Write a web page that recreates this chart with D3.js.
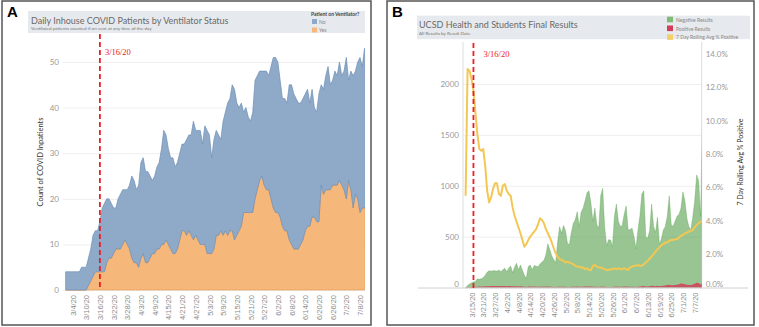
<!DOCTYPE html>
<html>
<head>
<meta charset="utf-8">
<script src="https://cdn.jsdelivr.net/npm/d3@7"></script>
<style>
  body { margin: 0; background: #fff; }
  svg { display: block; font-family: Lato, "Open Sans", sans-serif; }
</style>
</head>
<body>
<svg id="chart" width="759" height="327"></svg>
<script>
const parseDate = d3.timeParse("%m/%d/%y");
const fmtDate = d3.timeFormat("%-m/%-d/%y");

// ---- panel A: daily inhouse patients, starting 3/1/20 ----
const ventStart = "3/1/20";
const ventNo = [
  4,4,4,4,4,4,4,5,5,5,
  6,7,9,9,9,11,14,15,14,13,
  12,10,9,11,12,12,11,12,14,18,
  18,16,18,21,21,20,20,18,16,17,
  18,19,21,25,23,21,20,21,19,19,
  19,19,19,21,21,22,26,23,24,25,
  22,26,27,26,21,24,23,22,20,25,
  26,29,29,32,33,29,27,27,22,23,
  21,20,22,26,25,24,23,25,26,25,
  29,33,34,33,30,28,29,28,34,35,
  34,33,32,31,31,30,30,27,28,24,
  24,28,22,23,25,27,23,23,25,24,
  26,24,26,31,22,26,29,27,30,34,
  31,35
];
const ventYes = [
  0,0,0,0,0,0,0,0,0,0,
  1,2,3,4,4,4,4,4,6,7,
  7,8,9,9,9,10,11,10,9,7,
  6,6,5,7,8,6,6,7,8,8,
  9,9,10,10,11,10,9,8,8,9,
  11,13,13,12,13,12,11,12,11,10,
  10,10,8,8,8,9,12,12,13,12,
  13,12,13,13,11,12,13,14,17,17,
  17,17,17,20,22,24,25,23,22,22,
  20,18,17,17,16,14,13,13,11,10,
  9,9,9,10,11,13,14,14,16,16,
  15,15,23,21,22,22,22,23,23,23,
  24,23,22,20,24,22,18,21,20,17,
  18,18
];
const ventTicks = ["3/4/20","3/10/20","3/16/20","3/22/20","3/28/20","4/3/20","4/9/20","4/15/20",
  "4/21/20","4/27/20","5/3/20","5/9/20","5/15/20","5/21/20","5/27/20","6/2/20","6/8/20",
  "6/14/20","6/20/20","6/26/20","7/2/20","7/8/20"];
const ventYTicks = [0, 10, 20, 30, 40, 50];

// ---- panel B: test results by result date, starting 3/12/20 ----
const testStart = "3/12/20";
const negResults = [
  0,20,35,45,55,60,85,80,85,95,
  120,150,165,160,165,165,160,172,155,175,
  189,155,190,211,145,200,238,172,220,170,
  120,90,205,220,172,215,210,205,230,250,
  265,320,430,370,310,275,240,450,598,533,
  610,560,435,420,540,630,665,745,600,740,
  780,850,930,950,828,650,780,620,580,900,
  975,600,410,470,467,400,700,820,650,600,
  610,720,800,565,570,582,500,380,560,700,
  920,950,500,484,560,820,600,540,690,420,
  480,565,600,700,900,620,600,650,700,720,
  780,940,850,680,600,565,690,850,1106,1050,
  700,1650
];
const posResults = [
  0,2,4,5,6,8,8,9,10,10,
  12,12,13,14,15,15,14,15,14,14,
  15,13,14,15,12,12,13,11,12,10,
  8,6,9,10,8,9,8,8,8,9,
  8,9,10,8,7,6,6,7,8,7,
  8,7,6,6,7,8,8,9,7,8,
  8,9,10,10,9,7,8,7,6,8,
  9,7,5,6,6,5,8,9,8,7,
  7,9,10,7,7,8,7,6,8,10,
  13,15,10,10,12,17,14,13,18,12,
  15,18,20,24,28,22,21,24,27,33,
  40,38,32,26,24,25,30,38,47,44,
  30,45
];
const rollingPct = [
  5.5,13.1,13.0,12.5,11.8,10.5,9.2,8.3,8.2,8.3,
  7.3,5.8,5.1,5.4,5.9,6.25,6.25,5.6,5.5,6.1,
  6.2,5.8,5.6,5.5,4.8,4.3,3.95,3.6,3.25,2.85,
  2.45,2.6,2.85,3.05,3.2,3.35,3.5,3.8,4.15,4.05,
  3.85,3.5,3.25,3.0,2.7,2.35,2.05,1.85,1.7,1.65,
  1.6,1.5,1.55,1.5,1.45,1.4,1.3,1.25,1.25,1.2,
  1.2,1.1,1.15,1.05,1.05,1.3,1.35,1.25,1.2,1.2,
  1.15,1.1,1.05,1.05,1.1,1.1,1.15,1.1,1.15,1.1,
  1.1,1.15,1.1,1.05,1.2,1.25,1.3,1.3,1.35,1.3,
  1.3,1.4,1.5,1.6,1.75,1.85,2.0,2.15,2.3,2.4,
  2.55,2.6,2.7,2.7,2.8,2.85,2.85,2.9,2.9,3.0,
  3.1,3.15,3.25,3.3,3.35,3.4,3.45,3.6,3.75,3.85,
  3.95,4.0
];
const testTicks = ["3/15/20","3/21/20","3/27/20","4/2/20","4/8/20","4/14/20","4/20/20","4/26/20",
  "5/2/20","5/8/20","5/14/20","5/20/20","5/26/20","6/1/20","6/7/20","6/13/20","6/19/20",
  "6/25/20","7/1/20","7/7/20"];
const countTicks = [0, 500, 1000, 1500, 2000];
const pctTicks = [0, 2, 4, 6, 8, 10, 12, 14];

const markerDate = "3/16/20";

const svg = d3.select("#chart");

function panelFrame(x, y, w, h, letter) {
  svg.append("rect")
    .attr("x", x).attr("y", y).attr("width", w).attr("height", h)
    .attr("fill", "none").attr("stroke", "#555").attr("stroke-width", 1.5);
  svg.append("text")
    .attr("x", x + 5).attr("y", y + 16)
    .attr("font-family", "Liberation Sans, Arial, sans-serif")
    .attr("font-weight", "bold").attr("font-size", 15)
    .text(letter);
}

function styleDateAxis(g, pad) {
  g.select(".domain").remove();
  g.selectAll("text")
    .attr("transform", "rotate(-90)")
    .attr("x", -pad).attr("y", 0).attr("dy", "0.35em")
    .attr("text-anchor", "end")
    .attr("fill", "#8a8a8a")
    .attr("font-size", 7.5);
}

function drawPanelA() {
  panelFrame(2, 1, 369, 324, "A");

  svg.append("rect").attr("x", 28).attr("y", 11).attr("width", 337).attr("height", 22).attr("fill", "#e6e9ed");
  svg.append("text").attr("x", 31).attr("y", 23.5).attr("font-size", 9).attr("fill", "#6a6a6a")
    .text("Daily Inhouse COVID Patients by Ventilator Status");
  svg.append("text").attr("x", 31).attr("y", 30).attr("font-size", 4.6).attr("fill", "#777")
    .text("Ventilated patients counted if on vent at any time of the day");

  // legend
  const lg = svg.append("g").attr("transform", "translate(311,0)");
  lg.append("text").attr("x", 0).attr("y", 16).attr("font-size", 5).attr("font-weight", "bold").attr("fill", "#444")
    .text("Patient on Ventilator?");
  [["No", "#8eaac8"], ["Yes", "#f5b77a"]].forEach((d, i) => {
    lg.append("rect").attr("x", 1).attr("y", 19 + i * 8.5).attr("width", 5).attr("height", 5).attr("fill", d[1]);
    lg.append("text").attr("x", 8).attr("y", 23.5 + i * 8.5).attr("font-size", 5).attr("fill", "#888").text(d[0]);
  });

  const start = parseDate(ventStart);
  const data = ventNo.map((n, i) => ({ date: d3.timeDay.offset(start, i), no: n, yes: ventYes[i] }));
  const tickDates = ventTicks.map(parseDate);

  const x = d3.scaleTime().domain([tickDates[0], tickDates[tickDates.length - 1]]).range([72.5, 360]);
  const y = d3.scaleLinear().domain([0, 50]).range([290, 62]);

  const yAxis = svg.append("g")
    .attr("transform", "translate(63,0)")
    .call(d3.axisLeft(y).tickValues(ventYTicks).tickSize(-(365 - 63)).tickPadding(4));
  yAxis.select(".domain").remove();
  yAxis.selectAll("line").attr("stroke", "#eeeeee");
  yAxis.selectAll("text").attr("fill", "#999").attr("font-size", 8).attr("font-family", "Lato, sans-serif");

  const stacked = d3.stack().keys(["yes", "no"])(data);
  const area = d3.area()
    .x(d => x(d.data.date))
    .y0(d => y(d[0]))
    .y1(d => y(d[1]));
  const fills = { yes: "#f5b77a", no: "#8eaac8" };
  const strokes = { yes: "#e99a55", no: "#6f8fb6" };
  svg.append("g").selectAll("path")
    .data(stacked)
    .join("path")
    .attr("d", area)
    .attr("fill", d => fills[d.key])
    .attr("stroke", d => strokes[d.key])
    .attr("stroke-width", 0.7);

  const xAxis = svg.append("g")
    .attr("transform", "translate(0,290)")
    .call(d3.axisBottom(x).tickValues(tickDates).tickFormat(fmtDate).tickSize(0));
  styleDateAxis(xAxis, 5);

  svg.append("text")
    .attr("transform", "translate(42.5,162) rotate(-90)")
    .attr("text-anchor", "middle").attr("font-size", 7.5).attr("fill", "#333")
    .text("Count of COVID Inpatients");

  const mx = x(parseDate(markerDate));
  svg.append("line").attr("x1", mx).attr("x2", mx).attr("y1", 34).attr("y2", 290)
    .attr("stroke", "#ee1c25").attr("stroke-width", 1.8).attr("stroke-dasharray", "5,3");
  svg.append("text").attr("x", mx + 5).attr("y", 55)
    .attr("font-family", "Liberation Serif, Times New Roman, serif").attr("font-size", 8.5).attr("fill", "#ee1c25")
    .text(markerDate);
}

function drawPanelB() {
  panelFrame(387, 1, 367, 324, "B");

  svg.append("rect").attr("x", 417).attr("y", 15.7).attr("width", 333).attr("height", 23.5).attr("fill", "#e6e9ed");
  svg.append("text").attr("x", 419).attr("y", 27.5).attr("font-size", 9).attr("fill", "#6a6a6a")
    .text("UCSD Health and Students Final Results");
  svg.append("text").attr("x", 419).attr("y", 34.5).attr("font-size", 4.6).attr("fill", "#777")
    .text("All Results by Result Date");

  const legend = [["Negative Results", "#7fbb72"], ["Positive Results", "#d23d5a"], ["7 Day Rolling Avg % Positive", "#f3d06a"]];
  legend.forEach((d, i) => {
    svg.append("rect").attr("x", 667).attr("y", 16.7 + i * 8.8).attr("width", 6).attr("height", 5.6).attr("fill", d[1]);
    svg.append("text").attr("x", 676).attr("y", 21.7 + i * 8.8).attr("font-size", 5).attr("fill", "#888").text(d[0]);
  });

  const start = parseDate(testStart);
  const data = negResults.map((n, i) => ({
    date: d3.timeDay.offset(start, i), neg: n, pos: posResults[i], pct: rollingPct[i]
  }));
  const tickDates = testTicks.map(parseDate);

  const left = 463, right = 701.7, top = 42, bottom = 287.5;
  const x = d3.scaleTime().domain([tickDates[0], tickDates[tickDates.length - 1]]).range([471.5, 694.7]);
  const yL = d3.scaleLinear().domain([0, 2000]).range([bottom, 84]);
  const yR = d3.scaleLinear().domain([0, 14]).range([bottom, 54]);

  const gl = svg.append("g")
    .attr("transform", `translate(${left},0)`)
    .call(d3.axisLeft(yL).tickValues(countTicks).tickSize(-(right - left)).tickPadding(4)
      .tickFormat(d3.format("d")));
  gl.select(".domain").remove();
  gl.selectAll("line").attr("stroke", "#eeeeee");
  gl.selectAll("text").attr("fill", "#999").attr("font-size", 8).attr("font-family", "Lato, sans-serif")
    .attr("dy", d => d === 0 ? "-0.15em" : "0.32em");

  const gr = svg.append("g")
    .attr("transform", `translate(${right},0)`)
    .call(d3.axisRight(yR).tickValues(pctTicks).tickSize(0).tickPadding(4)
      .tickFormat(d => d3.format(".1f")(d) + "%"));
  gr.select(".domain").remove();
  gr.selectAll("text").attr("fill", "#999").attr("font-size", 8).attr("font-family", "Lato, sans-serif")
    .attr("dy", d => d === 0 ? "-0.15em" : "0.32em");

  svg.append("line").attr("x1", left).attr("x2", left).attr("y1", top).attr("y2", bottom).attr("stroke", "#dcdcdc");
  svg.append("line").attr("x1", right).attr("x2", right).attr("y1", top).attr("y2", bottom).attr("stroke", "#dcdcdc");

  svg.append("clipPath").attr("id", "clipB")
    .append("rect").attr("x", left).attr("y", top).attr("width", right - left).attr("height", bottom - top + 1);
  const plot = svg.append("g").attr("clip-path", "url(#clipB)");

  plot.append("path").datum(data)
    .attr("d", d3.area().x(d => x(d.date)).y0(yL(0)).y1(d => yL(d.neg)))
    .attr("fill", "#59a14f").attr("fill-opacity", 0.62)
    .attr("stroke", "#59a14f").attr("stroke-opacity", 0.7).attr("stroke-width", 0.5);
  plot.append("path").datum(data)
    .attr("d", d3.area().x(d => x(d.date)).y0(yL(0)).y1(d => yL(d.pos)))
    .attr("fill", "#d23d5a").attr("fill-opacity", 0.85);
  plot.append("path").datum(data)
    .attr("d", d3.line().x(d => x(d.date)).y(d => yR(d.pct)))
    .attr("fill", "none").attr("stroke", "#f2c753").attr("stroke-width", 2).attr("stroke-linejoin", "round");

  svg.append("line").attr("x1", 418).attr("x2", 748).attr("y1", 288).attr("y2", 288).attr("stroke", "#d0d0d0");

  const xAxis = svg.append("g")
    .attr("transform", "translate(0,288)")
    .call(d3.axisBottom(x).tickValues(tickDates).tickFormat(fmtDate).tickSize(0));
  styleDateAxis(xAxis, 4.5);

  svg.append("text")
    .attr("transform", "translate(743,162) rotate(-90)")
    .attr("text-anchor", "middle").attr("font-size", 7).attr("fill", "#333")
    .text("7 Day Rolling Avg % Positive");

  const mx = x(parseDate(markerDate));
  svg.append("line").attr("x1", mx).attr("x2", mx).attr("y1", 43).attr("y2", 290)
    .attr("stroke", "#ee1c25").attr("stroke-width", 1.8).attr("stroke-dasharray", "5,3");
  svg.append("text").attr("x", mx + 10).attr("y", 56.5)
    .attr("font-family", "Liberation Serif, Times New Roman, serif").attr("font-size", 8.5).attr("fill", "#ee1c25")
    .text(markerDate);
}

drawPanelA();
drawPanelB();
</script>
</body>
</html>
